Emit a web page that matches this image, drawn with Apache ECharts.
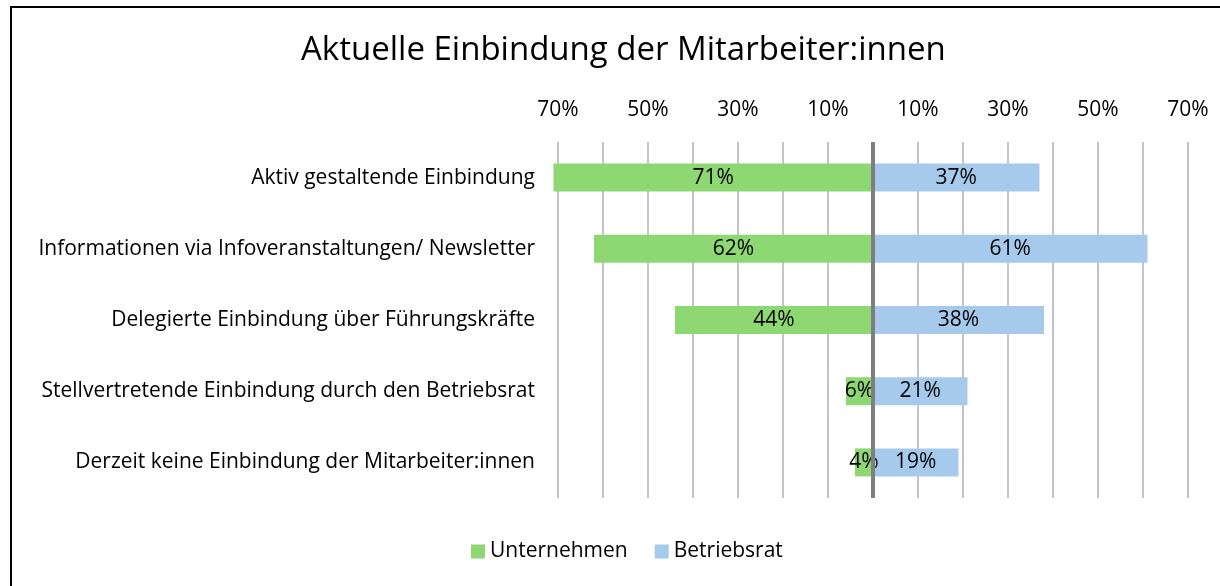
<!DOCTYPE html>
<html>
<head>
<meta charset="utf-8">
<script src="https://cdn.jsdelivr.net/npm/echarts@6/dist/echarts.min.js"></script>
<style>
  html, body { margin: 0; padding: 0; background: #fff; }
  #chart { width: 1220px; height: 586px; }
</style>
</head>
<body>
<div id="chart"></div>
<script>
// Kategorien (von oben nach unten)
const categories = [
  "Aktiv gestaltende Einbindung",
  "Informationen via Infoveranstaltungen/ Newsletter",
  "Delegierte Einbindung über Führungskräfte",
  "Stellvertretende Einbindung durch den Betriebsrat",
  "Derzeit keine Einbindung der Mitarbeiter:innen"
];
const unternehmen = [71, 62, 44, 6, 4];
const betriebsrat = [37, 61, 38, 21, 19];
const axisMin = -70;
const axisMax = 70;
const axisStep = 10;

const font = "'Open Sans', sans-serif";
const myChart = echarts.init(document.getElementById("chart"));

const pct = (p) => Math.abs(p.value) + "%";

const option = {
  animation: false,
  textStyle: { fontFamily: font },
  color: ["#8ED873", "#A6CAEC"],
  graphic: [
    {
      type: "rect",
      shape: { x: 11, y: 7, width: 1400, height: 800 },
      style: { fill: "none", stroke: "#000", lineWidth: 2 },
      silent: true
    }
  ],
  title: {
    text: "Aktuelle Einbindung der Mitarbeiter:innen",
    left: 296,
    top: 29,
    textStyle: { fontFamily: font, fontSize: 33, fontWeight: "normal", color: "#000" }
  },
  legend: {
    bottom: 19,
    left: 466,
    icon: "rect",
    itemWidth: 14,
    itemHeight: 14,
    itemGap: 27,
    textStyle: { fontFamily: font, fontSize: 21, color: "#000" },
    data: ["Unternehmen", "Betriebsrat"]
  },
  grid: { left: 558, right: 32, top: 142, bottom: 88, containLabel: false },
  xAxis: {
    type: "value",
    position: "top",
    min: axisMin,
    max: axisMax,
    interval: axisStep,
    axisLine: { show: false },
    axisTick: { show: false },
    axisLabel: {
      margin: 21,
      fontSize: 21,
      color: "#000",
      formatter: (v) => (Math.abs(v) % 20 === 10 ? Math.abs(v) + "%" : "")
    },
    splitLine: { show: true, lineStyle: { color: "#C4C4C4", width: 2 } }
  },
  yAxis: {
    type: "category",
    inverse: true,
    data: categories,
    axisLine: { show: false },
    axisTick: { show: false },
    axisLabel: { margin: 23, fontSize: 21, color: "#000" }
  },
  series: [
    {
      name: "Unternehmen",
      type: "bar",
      barWidth: 28,
      barGap: "-100%",
      clip: false,
      data: unternehmen.map((v) => -v),
      label: { show: true, position: "inside", formatter: pct, fontSize: 21, color: "#000" },
      markLine: {
        silent: true,
        symbol: "none",
        label: { show: false },
        lineStyle: { color: "#7F7F7F", width: 4, type: "solid" },
        data: [{ xAxis: 0 }]
      }
    },
    {
      name: "Betriebsrat",
      type: "bar",
      barWidth: 28,
      barGap: "-100%",
      clip: false,
      data: betriebsrat,
      label: { show: true, position: "inside", formatter: pct, fontSize: 21, color: "#000" }
    }
  ]
};
option && myChart.setOption(option);
</script>
</body>
</html>
